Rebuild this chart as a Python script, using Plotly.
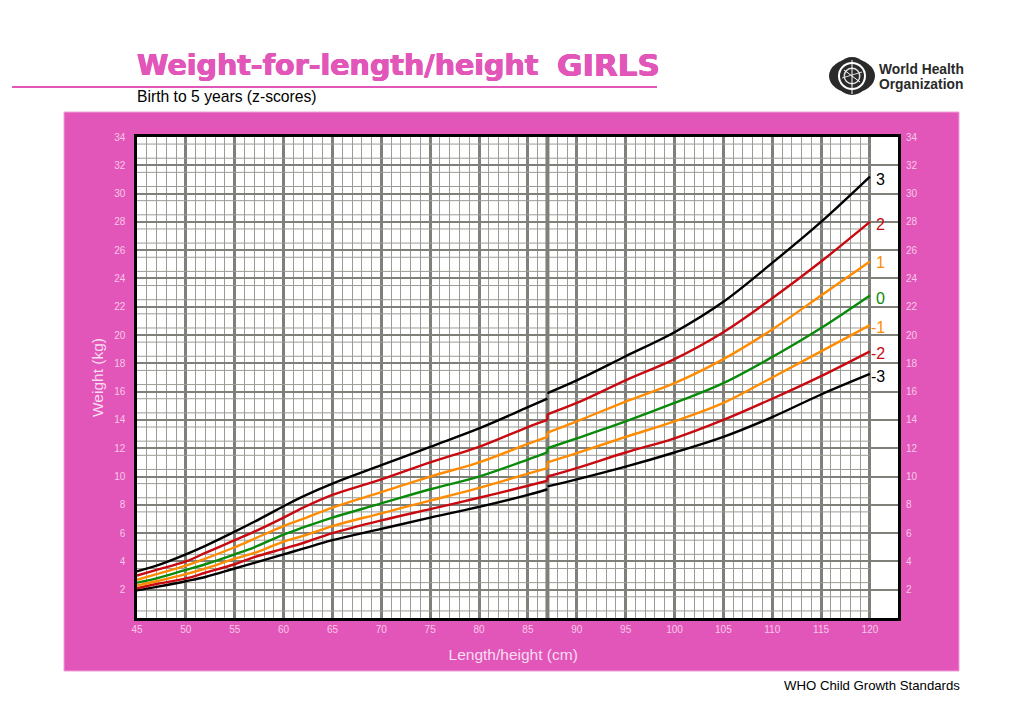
import plotly.graph_objects as go

W, H = 1024, 723
PINK = "#E356B9"
LABEL = "#F8C8E8"
GRID_MAJOR = "#80807A"
GRID_MINOR = "#9C9C96"

length_cm = [45, 47, 50, 52, 55, 57, 60, 62, 65, 70, 75, 80, 85, 87]
height_cm = [87, 90, 95, 100, 105, 110, 115, 120]

len_m3 = [1.95, 2.2, 2.6, 2.9, 3.5, 3.9, 4.5, 4.9, 5.5, 6.3, 7.1, 7.85, 8.7, 9.1]
len_m2 = [2.1, 2.4, 2.8, 3.2, 3.8, 4.3, 4.9, 5.3, 6.0, 6.9, 7.7, 8.5, 9.35, 9.7]
len_m1 = [2.3, 2.6, 3.1, 3.5, 4.2, 4.6, 5.4, 5.8, 6.5, 7.4, 8.3, 9.2, 10.2, 10.6]
len_0 = [2.5, 2.8, 3.4, 3.8, 4.5, 5.0, 5.9, 6.4, 7.1, 8.1, 9.1, 10.0, 11.2, 11.7]
len_p1 = [2.7, 3.1, 3.7, 4.2, 5.0, 5.6, 6.5, 7.0, 7.8, 8.9, 10.0, 11.0, 12.3, 12.8]
len_p2 = [3.0, 3.4, 4.0, 4.6, 5.5, 6.1, 7.1, 7.8, 8.7, 9.8, 11.0, 12.1, 13.5, 14.0]
len_p3 = [3.3, 3.7, 4.5, 5.1, 6.1, 6.8, 7.9, 8.6, 9.5, 10.8, 12.1, 13.4, 14.9, 15.5]

hgt_m3 = [9.3, 9.8, 10.7, 11.7, 12.8, 14.2, 15.8, 17.25]
hgt_m2 = [10.0, 10.6, 11.7, 12.7, 14.0, 15.5, 17.1, 18.85]
hgt_m1 = [11.0, 11.65, 12.8, 13.9, 15.2, 17.0, 18.85, 20.7]
hgt_0 = [12.0, 12.7, 13.9, 15.2, 16.6, 18.45, 20.5, 22.8]
hgt_p1 = [13.1, 13.9, 15.3, 16.6, 18.3, 20.4, 22.8, 25.2]
hgt_p2 = [14.4, 15.2, 16.8, 18.3, 20.2, 22.6, 25.2, 28.0]
hgt_p3 = [15.9, 16.8, 18.5, 20.2, 22.35, 25.1, 28.0, 31.2]

z_names = ["-3", "-2", "-1", "0", "1", "2", "3"]
z_colors = ["#000000", "#C80A10", "#FF8C00", "#0A8A0A", "#FF8C00", "#C80A10", "#000000"]
z_label_y = [17.1, 18.7, 20.5, 22.6, 25.1, 27.8, 31.0]

x_ticks = list(range(45, 121, 5))
x_minor = list(range(45, 121))
y_ticks = list(range(2, 35, 2))
y_minor = [v / 2 for v in range(1, 68, 2)]

def px(x): return x / W
def py(y): return 1 - y / H

fig = go.Figure()

# half-kilogram lines stop at 120 cm
gx, gy = [], []
for v in y_minor:
    gx += [45, 120, None]
    gy += [v, v, None]
fig.add_trace(go.Scatter(x=gx, y=gy, mode="lines", line=dict(color=GRID_MINOR, width=1),
                         hoverinfo="skip", showlegend=False))
# heavy divider where length changes to height
fig.add_trace(go.Scatter(x=[87, 87], y=[0, 34], mode="lines", line=dict(color=GRID_MAJOR, width=4),
                         hoverinfo="skip", showlegend=False))

lens = [len_m3, len_m2, len_m1, len_0, len_p1, len_p2, len_p3]
hgts = [hgt_m3, hgt_m2, hgt_m1, hgt_0, hgt_p1, hgt_p2, hgt_p3]
for name, color, a, b in zip(z_names, z_colors, lens, hgts):
    style = dict(color=color, width=2.4, shape="spline", smoothing=1)
    fig.add_trace(go.Scatter(x=length_cm, y=a, mode="lines", name=name, line=style, showlegend=False))
    fig.add_trace(go.Scatter(x=height_cm, y=b, mode="lines", name=name, line=style, showlegend=False))
    if color != "#000000":
        fig.add_trace(go.Scatter(x=[87, 87], y=[a[-1], b[0]], mode="lines", name=name,
                                 line=dict(color=color, width=2.4), showlegend=False))

fig.add_trace(go.Scatter(x=[45, 120], y=[0, 34], yaxis="y2", mode="lines",
                         line=dict(width=0), hoverinfo="skip", showlegend=False))

shapes = [
    dict(type="rect", xref="paper", yref="paper", x0=px(64), x1=px(959), y0=py(671), y1=py(112),
         fillcolor=PINK, line=dict(color="#F0A0D8", width=1), layer="below"),
    dict(type="rect", xref="paper", yref="paper", x0=px(137), x1=px(898), y0=py(618), y1=py(137),
         fillcolor="#FFFFFF", line=dict(width=0), layer="below"),
    dict(type="line", xref="paper", yref="paper", x0=px(12), x1=px(657), y0=py(87), y1=py(87),
         line=dict(color=PINK, width=2)),
]

# WHO emblem
def ell(cx, cy, rx, ry, color):
    return dict(type="circle", xref="paper", yref="paper", x0=px(cx - rx), x1=px(cx + rx),
                y0=py(cy + ry), y1=py(cy - ry), fillcolor=color, line=dict(width=0))
def seg(x0, y0, x1, y1, color, w):
    return dict(type="line", xref="paper", yref="paper", x0=px(x0), x1=px(x1), y0=py(y0), y1=py(y1),
                line=dict(color=color, width=w))
DARK = "#2A2A2A"
shapes += [
    ell(852, 76, 23, 17, DARK), ell(852, 76, 17, 19, DARK),
    ell(852, 76, 14, 14, "#FFFFFF"), ell(852, 76, 12, 12, DARK),
    ell(852, 76, 8.5, 8.5, "#DDDDDD"), ell(852, 76, 7, 7, DARK),
    seg(852, 60, 852, 94, "#FFFFFF", 1), seg(844, 70, 860, 82, "#FFFFFF", 1),
    seg(842, 78, 862, 72, "#DDDDDD", 1),
]
fig.update_layout(shapes=shapes)

def note(x, y, text, size, color="#000000", xanchor="left", yanchor="middle", **kw):
    return dict(xref="paper", yref="paper", x=px(x), y=py(y), text=text, showarrow=False,
                xanchor=xanchor, yanchor=yanchor, xshift=-1, font=dict(size=size, color=color, **kw))

title_font = dict(family="DejaVu Sans", weight="bold", shadow=f"0.5px 0 0 {PINK}, -0.5px 0 0 {PINK}, 0 0.4px 0 {PINK}")
annotations = [
    note(136, 65, "Weight-for-length/height", 28.5, PINK, **title_font),
    note(556, 65, "GIRLS", 31, PINK, **title_font),
    note(136, 97, "Birth to 5 years (z-scores)", 15.7, family="Liberation Sans"),
    note(963, 685, "WHO Child Growth Standards", 13.2, xanchor="right", family="Liberation Sans"),
    note(878, 69, "World Health", 13.8, DARK, family="Liberation Sans", weight="bold"),
    note(878, 84, "Organization", 13.8, DARK, family="Liberation Sans", weight="bold"),
]
for name, color, ly in zip(z_names, z_colors, z_label_y):
    annotations.append(dict(xref="paper", yref="y", x=px(887), y=ly, text=name, showarrow=False,
                            xanchor="right", yanchor="middle",
                            font=dict(size=16, color=color, family="Liberation Sans")))
fig.update_layout(annotations=annotations)

tick_font = dict(size=10, color=LABEL, family="Liberation Sans")
axis_title_font = dict(size=15.5, color="#F9DDF1", family="Liberation Sans")
dom_x = [px(137), px(898)]
dom_y = [py(618), py(137)]
fig.update_layout(
    width=W, height=H, margin=dict(l=0, r=0, t=0, b=0, autoexpand=False), autosize=False,
    paper_bgcolor="#FFFFFF", plot_bgcolor="#FFFFFF", showlegend=False,
    font=dict(family="Liberation Sans"),
    xaxis=dict(domain=dom_x, range=[45, 122.87], tickmode="array", tickvals=x_ticks,
               showgrid=True, gridcolor=GRID_MAJOR, gridwidth=3, zeroline=False,
               showline=True, mirror=True, linecolor="#000000", linewidth=2.5,
               ticks="", tickfont=tick_font, ticklabelstandoff=0,
               minor=dict(tickmode="array", tickvals=x_minor, showgrid=True,
                          gridcolor=GRID_MINOR, gridwidth=1, ticks=""),
               title=dict(text="Length/height (cm)&nbsp;&nbsp;", font=axis_title_font, standoff=16)),
    yaxis=dict(domain=dom_y, range=[0, 34], tickmode="array", tickvals=y_ticks,
               showgrid=True, gridcolor=GRID_MAJOR, gridwidth=2.2, zeroline=False,
               showline=True, mirror=True, linecolor="#000000", linewidth=2.5,
               ticks="", tickfont=tick_font, ticklabelstandoff=7,
               title=dict(text="Weight (kg)", font=axis_title_font, standoff=7)),
    yaxis2=dict(domain=dom_y, range=[0, 34], overlaying="y", side="right", anchor="x",
                tickmode="array", tickvals=y_ticks, showgrid=False, zeroline=False,
                ticks="", tickfont=tick_font, ticklabelstandoff=7),
)

fig.write_html("out.html", config={"displayModeBar": False},
               post_script="document.body.style.margin='0';")
